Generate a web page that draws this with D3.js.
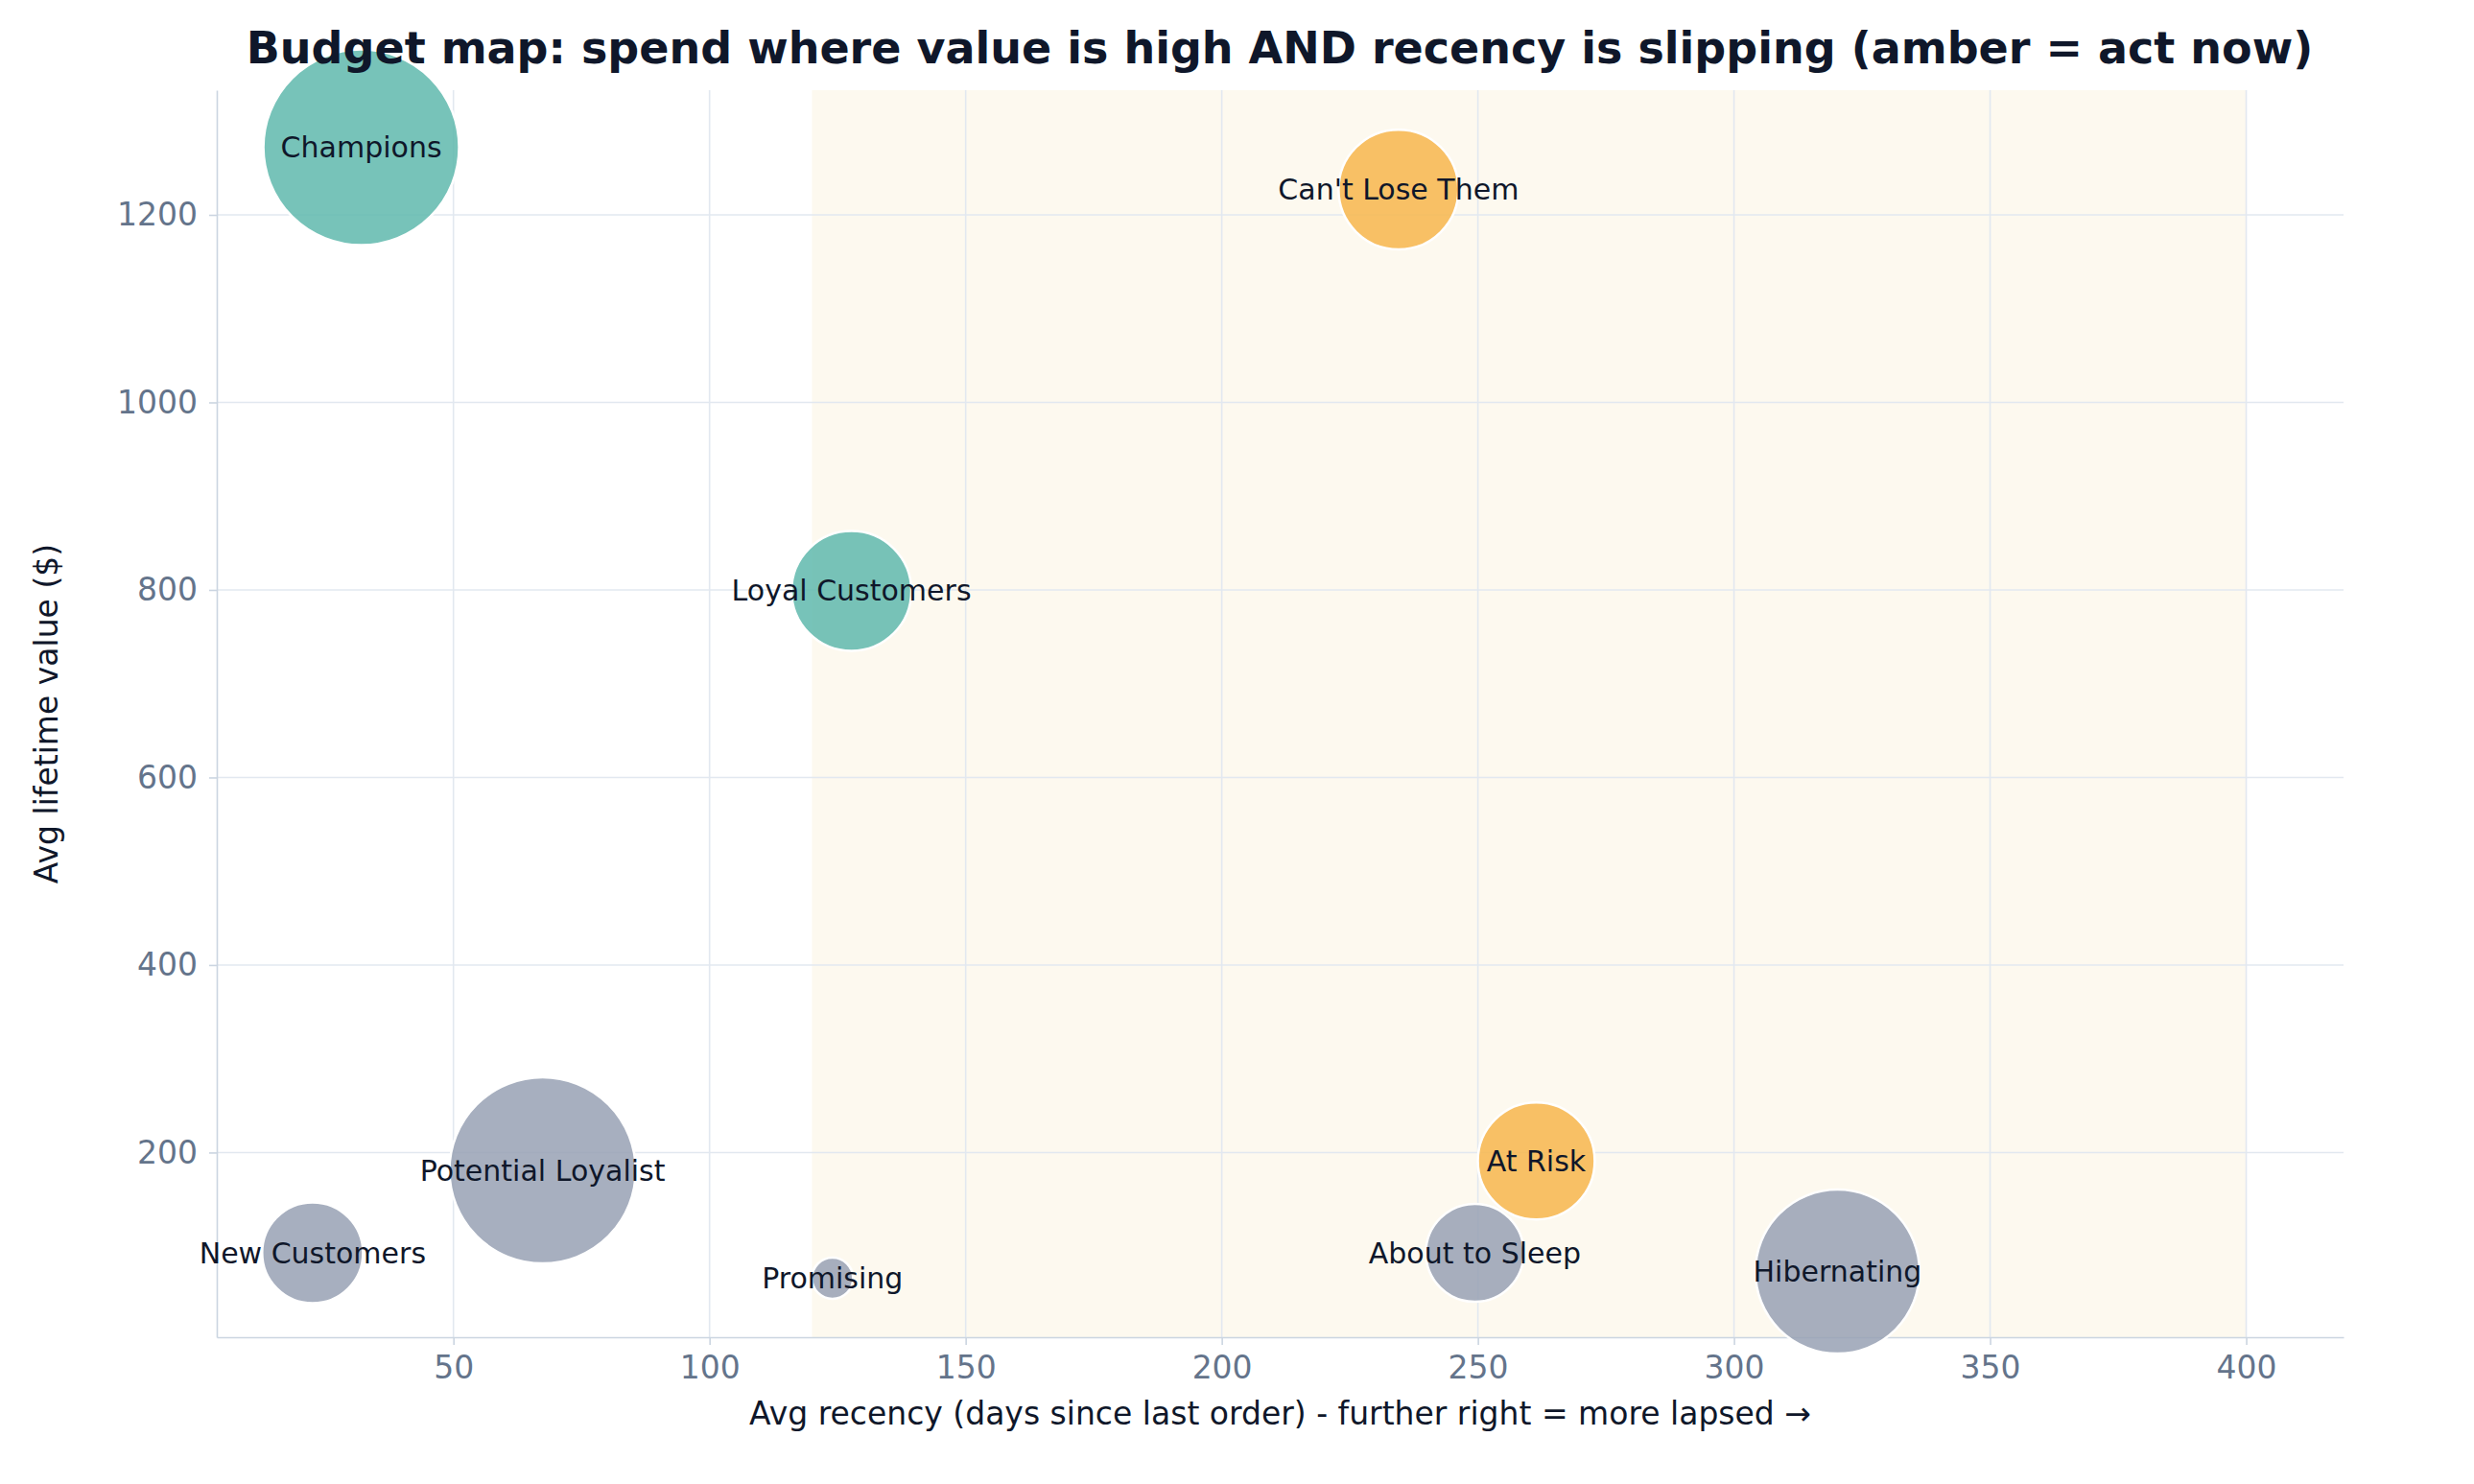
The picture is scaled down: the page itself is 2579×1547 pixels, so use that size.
<!DOCTYPE html>
<html><head><meta charset="utf-8">
<script src="https://cdn.jsdelivr.net/npm/d3@7"></script>
<style>body{margin:0;background:#fff;font-family:"DejaVu Sans",sans-serif;}</style>
</head><body><div id="chart"></div>
<script>
// Segment data
const segments = ["Champions", "Can't Lose Them", "Loyal Customers", "Potential Loyalist", "New Customers", "Promising", "At Risk", "About to Sleep", "Hibernating"];
const recency = [32, 234.5, 127.7, 67.4, 22.5, 124, 261.4, 249.4, 320.2];
const lifetimeValue = [1272, 1227, 799, 181, 93, 66, 191, 93, 73];
const customers = [3840, 1440, 1440, 3480, 1020, 170, 1370, 960, 2700];
const group = ["teal", "amber", "teal", "gray", "gray", "gray", "amber", "gray", "gray"];
const xTicks = [50, 100, 150, 200, 250, 300, 350, 400];
const yTicks = [200, 400, 600, 800, 1000, 1200];
const actZone = [120, 400];

const W = 2579, H = 1547;
const margin = { top: 94, right: 136, bottom: 153, left: 226 };
const width = W - margin.left - margin.right;
const height = H - margin.top - margin.bottom;
const colors = { teal: "#5fb8ad", amber: "#f7b64c", gray: "#98a1b4" };

const svg = d3.select('#chart').append('svg').attr('width', W).attr('height', H);
const g = svg.append('g').attr('transform', `translate(${margin.left},${margin.top})`);

const x = d3.scaleLinear().domain([3.8, 419]).range([0, width]);
const y = d3.scaleLinear().domain([3, 1333]).range([height, 0]);
const r = d3.scaleSqrt().domain([0, 3840]).range([0, 102]);

// act-now zone
g.append('rect').attr('x', x(actZone[0])).attr('y', 0)
  .attr('width', x(actZone[1]) - x(actZone[0])).attr('height', height)
  .attr('fill', '#fdf9ef');

// grid
g.selectAll('.vg').data(xTicks).enter().append('line')
  .attr('x1', d => x(d)).attr('x2', d => x(d)).attr('y1', 0).attr('y2', height)
  .attr('stroke', '#e2e8f0').attr('stroke-width', 1.6);
g.selectAll('.hg').data(yTicks).enter().append('line')
  .attr('x1', 0).attr('x2', width).attr('y1', d => y(d)).attr('y2', d => y(d))
  .attr('stroke', '#e2e8f0').attr('stroke-width', 1.6);

// axes
const xAxis = g.append('g').attr('transform', `translate(0,${height})`)
  .call(d3.axisBottom(x).tickValues(xTicks).tickFormat(d3.format('d')).tickSizeInner(8).tickSizeOuter(0).tickPadding(12));
const yAxis = g.append('g')
  .call(d3.axisLeft(y).tickValues(yTicks).tickFormat(d3.format('d')).tickSizeInner(8).tickSizeOuter(0).tickPadding(12));
[xAxis, yAxis].forEach(a => {
  a.selectAll('path, line').attr('stroke', '#cbd5e1').attr('stroke-width', 1.6);
  a.selectAll('text').attr('fill', '#64748b').style('font-size', '33px').style('font-family', 'DejaVu Sans');
});

// bubbles
const idx = d3.range(segments.length);
g.selectAll('.bubble').data(idx).enter().append('circle')
  .attr('cx', i => x(recency[i])).attr('cy', i => y(lifetimeValue[i]))
  .attr('r', i => r(customers[i]))
  .attr('fill', i => colors[group[i]]).attr('fill-opacity', 0.85)
  .attr('stroke', '#fff').attr('stroke-width', 2.5);

g.selectAll('.lbl').data(idx).enter().append('text')
  .attr('x', i => x(recency[i])).attr('y', i => y(lifetimeValue[i]))
  .attr('dy', '0.35em').attr('text-anchor', 'middle')
  .style('font-size', '30px').attr('fill', '#0f172a')
  .text(i => segments[i]);

// labels
svg.append('text').attr('x', 1334).attr('y', 66).attr('text-anchor', 'middle')
  .style('font-size', '46px').style('font-weight', 'bold').attr('fill', '#0f172a')
  .text('Budget map: spend where value is high AND recency is slipping (amber = act now)');
svg.append('text').attr('x', margin.left + width / 2).attr('y', H - 62).attr('text-anchor', 'middle')
  .style('font-size', '33px').attr('fill', '#0f172a')
  .text('Avg recency (days since last order) - further right = more lapsed →');
svg.append('text').attr('transform', `translate(60,${margin.top + height / 2}) rotate(-90)`)
  .attr('text-anchor', 'middle').style('font-size', '33px').attr('fill', '#0f172a')
  .text('Avg lifetime value ($)');
</script></body></html>
